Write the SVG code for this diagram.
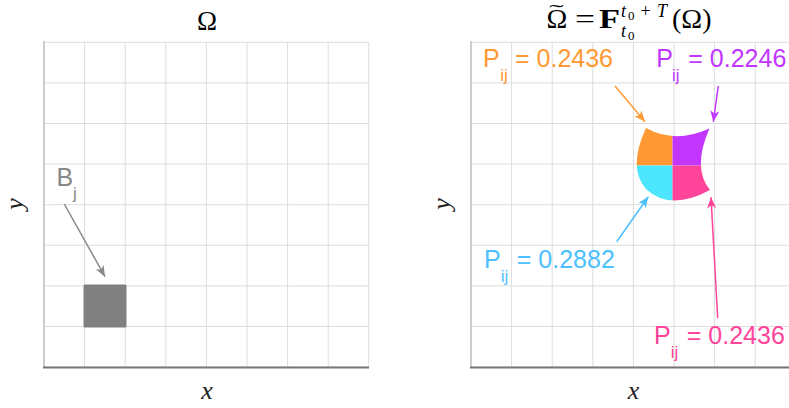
<svg xmlns="http://www.w3.org/2000/svg" width="789" height="408" viewBox="0 0 789 408">
  <style>
    .grid { stroke: #dddddd; stroke-width: 1; fill: none; }
    .yaxis { stroke: #cccccc; stroke-width: 2; }
    .xaxis { stroke: #777777; stroke-width: 2; }
    .math { font-family: "Liberation Serif", "DejaVu Serif", serif; fill: #000; }
    .ax { font-family: "Liberation Serif", "DejaVu Serif", serif; font-style: italic; font-size: 26px; fill: #222; }
    .lab { font-family: "Liberation Sans", Arial, sans-serif; font-size: 25px; }
    .sub { font-family: "Liberation Sans", Arial, sans-serif; font-size: 17px; }
    .arrow { fill: none; stroke-width: 1.5; }
  </style>
  <defs>
    <marker id="ah-gray" markerUnits="userSpaceOnUse" markerWidth="12" markerHeight="10" refX="11" refY="5" orient="auto"><path d="M0,0.5 L11,5 L0,9.5 L3,5 Z" fill="#888888"/></marker>
    <marker id="ah-orange" markerUnits="userSpaceOnUse" markerWidth="12" markerHeight="10" refX="11" refY="5" orient="auto"><path d="M0,0.5 L11,5 L0,9.5 L3,5 Z" fill="#ff9933"/></marker>
    <marker id="ah-purple" markerUnits="userSpaceOnUse" markerWidth="12" markerHeight="10" refX="11" refY="5" orient="auto"><path d="M0,0.5 L11,5 L0,9.5 L3,5 Z" fill="#c236ff"/></marker>
    <marker id="ah-cyan" markerUnits="userSpaceOnUse" markerWidth="12" markerHeight="10" refX="11" refY="5" orient="auto"><path d="M0,0.5 L11,5 L0,9.5 L3,5 Z" fill="#4dc0ff"/></marker>
    <marker id="ah-pink" markerUnits="userSpaceOnUse" markerWidth="12" markerHeight="10" refX="11" refY="5" orient="auto"><path d="M0,0.5 L11,5 L0,9.5 L3,5 Z" fill="#ff4499"/></marker>
    <clipPath id="blob">
      <path d="M646,128 Q675,144 709.5,128.5 Q692,168 710,190 Q670,211.5 646,189 Q627.4,168 646,128 Z"/>
    </clipPath>
  </defs>

  <!-- Left panel -->
  <g id="left-panel">
    <g class="grid">
      <rect x="44" y="42.3" width="324.8" height="324.8"/>
      <path d="M84.6,42.3V367.1 M125.2,42.3V367.1 M165.8,42.3V367.1 M206.4,42.3V367.1 M247,42.3V367.1 M287.6,42.3V367.1 M328.2,42.3V367.1"/>
      <path d="M44,82.9H368.8 M44,123.5H368.8 M44,164.1H368.8 M44,204.7H368.8 M44,245.3H368.8 M44,285.9H368.8 M44,326.5H368.8"/>
    </g>
    <line class="yaxis" x1="44" y1="41" x2="44" y2="367.5"/>
    <line class="xaxis" x1="43" y1="367.5" x2="369" y2="367.5"/>
    <text class="math" x="207" y="30" font-size="27" text-anchor="middle">Ω</text>
    <text class="ax" x="207" y="399" text-anchor="middle">x</text>
    <text class="ax" transform="translate(23,204) rotate(-90)" text-anchor="middle">y</text>
  </g>

  <g id="Bj-box">
    <rect x="83.5" y="284.5" width="43" height="43" rx="1.5" fill="#808080"/>
  </g>
  <g id="Bj-label" fill="#888888">
    <text class="lab" x="56.5" y="186" font-size="23">B</text>
    <text class="sub" x="73" y="199">j</text>
  </g>

  <!-- Right panel -->
  <g id="right-panel">
    <g class="grid">
      <rect x="471" y="42.3" width="324.8" height="324.8"/>
      <path d="M511.6,42.3V367.1 M552.2,42.3V367.1 M592.8,42.3V367.1 M633.4,42.3V367.1 M674,42.3V367.1 M714.6,42.3V367.1 M755.2,42.3V367.1"/>
      <path d="M471,82.9H795.8 M471,123.5H795.8 M471,164.1H795.8 M471,204.7H795.8 M471,245.3H795.8 M471,285.9H795.8 M471,326.5H795.8"/>
    </g>
    <line class="yaxis" x1="471" y1="41" x2="471" y2="367.5"/>
    <line class="xaxis" x1="470" y1="367.5" x2="796" y2="367.5"/>
    <g id="title-right" class="math">
      <text x="546.5" y="28.3" font-size="28">Ω</text>
      <text transform="translate(556.5,17.5) scale(2.4,1.1)" font-size="18" text-anchor="middle">˜</text>
      <text x="575" y="28.3" font-size="28" textLength="20" lengthAdjust="spacingAndGlyphs">=</text>
      <text x="599" y="28.3" font-size="28" font-weight="bold" textLength="21" lengthAdjust="spacingAndGlyphs">F</text>
      <text x="621" y="16.5" font-size="18" font-style="italic">t</text>
      <text x="628" y="19.5" font-size="13">0</text>
      <text x="640.5" y="16.5" font-size="18">+</text>
      <text x="657" y="16.5" font-size="18" font-style="italic">T</text>
      <text x="621" y="36.5" font-size="18" font-style="italic">t</text>
      <text x="628" y="39.5" font-size="13">0</text>
      <text x="672" y="28.3" font-size="28">(Ω)</text>
    </g>
    <text class="ax" x="633.5" y="399" text-anchor="middle">x</text>
    <text class="ax" transform="translate(450,204) rotate(-90)" text-anchor="middle">y</text>
  </g>

  <g id="image-region" clip-path="url(#blob)">
    <rect x="620" y="120" width="52.5" height="45.5" fill="#ff9933"/>
    <rect x="672.5" y="120" width="50" height="45.5" fill="#c236ff"/>
    <rect x="620" y="165.5" width="52.5" height="50" fill="#4de6ff"/>
    <rect x="672.5" y="165.5" width="50" height="50" fill="#ff4499"/>
  </g>

  <g id="label-orange" fill="#ff9933">
    <text class="lab" x="483" y="67">P</text>
    <text class="sub" x="500.3" y="80.5">ij</text>
    <text class="lab" x="515" y="67">= 0.2436</text>
  </g>
  <g id="label-purple" fill="#c236ff">
    <text class="lab" x="656.3" y="67">P</text>
    <text class="sub" x="672" y="80.5">ij</text>
    <text class="lab" x="688.3" y="67">= 0.2246</text>
  </g>
  <g id="label-cyan" fill="#4dc0ff">
    <text class="lab" x="484" y="268.3">P</text>
    <text class="sub" x="500.8" y="281.8">ij</text>
    <text class="lab" x="516.8" y="268.3">= 0.2882</text>
  </g>
  <g id="label-pink" fill="#ff4499">
    <text class="lab" x="654" y="344">P</text>
    <text class="sub" x="670.8" y="357.5">ij</text>
    <text class="lab" x="686.8" y="344">= 0.2436</text>
  </g>

  <g id="connectors" class="arrow">
    <line x1="64.3" y1="204" x2="105" y2="276.7" stroke="#888888" marker-end="url(#ah-gray)"/>
    <line x1="615" y1="86" x2="645" y2="121.7" stroke="#ff9933" marker-end="url(#ah-orange)"/>
    <line x1="718.3" y1="86" x2="713.3" y2="121.7" stroke="#c236ff" marker-end="url(#ah-purple)"/>
    <line x1="616.7" y1="241.7" x2="648.3" y2="196.7" stroke="#4dc0ff" marker-end="url(#ah-cyan)"/>
    <line x1="717.7" y1="318.3" x2="711" y2="197.3" stroke="#ff4499" marker-end="url(#ah-pink)"/>
  </g>
</svg>
